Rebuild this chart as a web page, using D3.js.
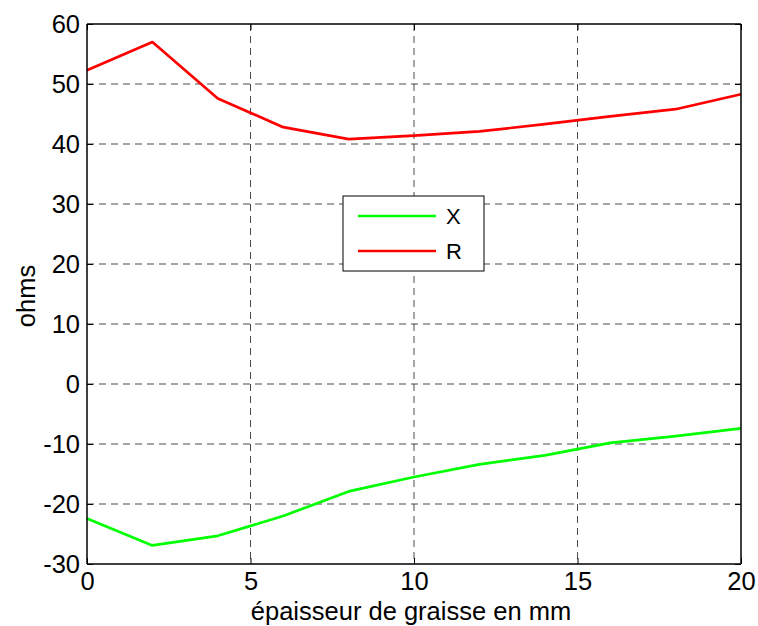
<!DOCTYPE html>
<html><head><meta charset="utf-8">
<script src="https://cdn.jsdelivr.net/npm/d3@7"></script>
<style>body{margin:0;background:#fff}svg text{font-family:"Liberation Sans",Arial,sans-serif}</style>
</head><body><svg id="c" width="758" height="626"></svg>
<script>
const xs = [0,2,4,6,8,10,12,14,16,18,20];
const seriesX = [-22.4,-26.9,-25.3,-22.0,-17.9,-15.5,-13.4,-11.9,-9.8,-8.7,-7.4];
const seriesR = [52.3,57.0,47.6,42.8,40.8,41.4,42.1,43.3,44.6,45.8,48.3];
const xTicks = [0,5,10,15,20];
const yTicks = [-30,-20,-10,0,10,20,30,40,50,60];
const labels = ["X","R"];
const colors = ["#00ff00","#ff0000"];

const svg = d3.select("#c");
const L=87,R=741,T=24,B=564;
const x = d3.scaleLinear().domain([0,20]).range([L,R]);
const y = d3.scaleLinear().domain([-30,60]).range([B,T]);
const fs = "25.5px";

// grid
const g = svg.append("g");
g.selectAll(".gx").data(xTicks.slice(1,-1)).join("line")
 .attr("x1",d=>x(d)).attr("x2",d=>x(d)).attr("y1",T).attr("y2",B)
 .attr("stroke","#000").attr("stroke-width",1).attr("stroke-dasharray","7,5").attr("opacity",0.7);
g.selectAll(".gy").data(yTicks.slice(1,-1)).join("line")
 .attr("x1",L).attr("x2",R).attr("y1",d=>y(d)).attr("y2",d=>y(d))
 .attr("stroke","#000").attr("stroke-width",1).attr("stroke-dasharray","7,5").attr("opacity",0.7);

// lines
const line = d3.line().x((d,i)=>x(xs[i])).y(d=>y(d));
[seriesX,seriesR].forEach((s,k)=>{
  svg.append("path").datum(s).attr("d",line).attr("fill","none")
   .attr("stroke",colors[k]).attr("stroke-width",2.7).attr("stroke-linejoin","round");
});

// axes
const ax = svg.append("g").attr("transform",`translate(0,${B})`)
 .call(d3.axisBottom(x).tickValues(xTicks).tickSize(-6).tickPadding(8));
const axT = svg.append("g").attr("transform",`translate(0,${T})`)
 .call(d3.axisTop(x).tickValues(xTicks).tickSize(-6).tickFormat(""));
const ay = svg.append("g").attr("transform",`translate(${L},0)`)
 .call(d3.axisLeft(y).tickValues(yTicks).tickSize(-6).tickPadding(7));
const ayR = svg.append("g").attr("transform",`translate(${R},0)`)
 .call(d3.axisRight(y).tickValues(yTicks).tickSize(-6).tickFormat(""));
[ax,axT,ay,ayR].forEach(a=>{
  a.selectAll("path").attr("stroke","#000").attr("stroke-width",1.5);
  a.selectAll("line").attr("stroke","#000");
  a.selectAll("text").attr("fill","#000").style("font-size",fs).style("font-family",'"Liberation Sans",Arial,sans-serif');
});
ax.selectAll("path").attr("d",`M${L},0H${R}`);
axT.selectAll("path").attr("d",`M${L},0H${R}`);
ay.selectAll("path").attr("d",`M0,${T}V${B}`);
ayR.selectAll("path").attr("d",`M0,${T}V${B}`);
ay.selectAll("text").text(d=>d<0?"-"+Math.abs(d):d);

svg.append("text").attr("x",(L+R)/2-3).attr("y",620).attr("text-anchor","middle")
 .style("font-size",fs).text("épaisseur de graisse en mm");
svg.append("text").attr("transform","translate(35,296) rotate(-90)").attr("text-anchor","middle")
 .style("font-size",fs).text("ohms");

// legend
const lg = svg.append("g");
lg.append("rect").attr("x",343).attr("y",196).attr("width",141).attr("height",75)
 .attr("fill","#fff").attr("stroke","#000").attr("stroke-width",1);
labels.forEach((t,i)=>{
  const yy = 216+i*35;
  lg.append("line").attr("x1",358).attr("x2",436).attr("y1",yy).attr("y2",yy)
   .attr("stroke",colors[i]).attr("stroke-width",2.7);
  lg.append("text").attr("x",446).attr("y",yy+8).style("font-size","22px").text(t);
});
</script></body></html>
